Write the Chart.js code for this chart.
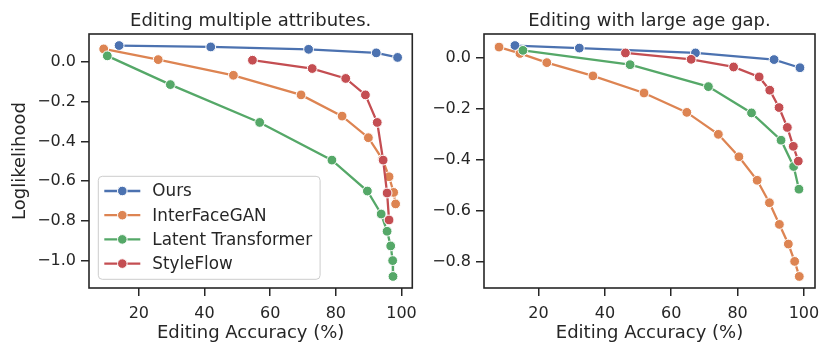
<!DOCTYPE html>
<html>
<head>
<meta charset="utf-8">
<script src="https://cdn.jsdelivr.net/npm/chart.js@4.4.0/dist/chart.umd.min.js"></script>
<style>
  html, body { margin: 0; padding: 0; background: #fff; }
  #wrap { position: relative; width: 831px; height: 354px; }
  .panel { position: absolute; top: 0; }
</style>
</head>
<body>
<div id="wrap">
  <div class="panel" style="left:0"><canvas id="multiChart" width="425" height="354"></canvas></div>
  <div class="panel" style="left:425px"><canvas id="ageChart" width="406" height="354"></canvas></div>
</div>
<script>
// series names + colours (seaborn deep)
var seriesNames = ['Ours', 'InterFaceGAN', 'Latent Transformer', 'StyleFlow'];
var seriesColors = ['#4c72b0', '#dd8452', '#55a868', '#c44e52'];

// Editing multiple attributes
var multiOursX = [14.0, 41.9, 71.7, 92.3, 98.8];
var multiOursY = [0.084, 0.077, 0.065, 0.047, 0.024];
var multiIfgX = [9.3, 25.9, 48.8, 69.4, 81.9, 89.9, 94.2, 96.2, 97.6, 98.2];
var multiIfgY = [0.067, 0.013, -0.066, -0.165, -0.272, -0.381, -0.49, -0.578, -0.657, -0.715];
var multiLtX = [10.4, 29.6, 56.8, 78.8, 89.6, 93.8, 95.6, 96.7, 97.3, 97.4];
var multiLtY = [0.032, -0.113, -0.304, -0.494, -0.650, -0.766, -0.853, -0.927, -1.001, -1.081];
var multiSfX = [54.6, 72.8, 83.0, 89.0, 92.6, 94.4, 95.6, 96.2];
var multiSfY = [0.010, -0.032, -0.082, -0.165, -0.304, -0.494, -0.660, -0.796];

// Editing with large age gap
var ageOursX = [12.9, 32.3, 67.3, 91.0, 98.8];
var ageOursY = [0.049, 0.039, 0.020, -0.006, -0.038];
var ageIfgX = [8.1, 14.4, 22.5, 36.4, 51.8, 64.7, 74.2, 80.4, 85.9, 89.6, 92.6, 95.3, 97.2, 98.6];
var ageIfgY = [0.043, 0.018, -0.018, -0.070, -0.137, -0.213, -0.299, -0.387, -0.479, -0.567, -0.652, -0.729, -0.797, -0.856];
var ageLtX = [15.3, 47.6, 71.2, 84.2, 93.1, 96.9, 98.5];
var ageLtY = [0.030, -0.026, -0.112, -0.215, -0.322, -0.425, -0.514];
var ageSfX = [46.2, 66.0, 78.8, 86.5, 89.7, 92.5, 95.0, 96.8, 98.3];
var ageSfY = [0.020, -0.005, -0.035, -0.074, -0.126, -0.194, -0.272, -0.346, -0.404];

// ticks
var xTicks = [20, 40, 60, 80, 100];
var multiYTicks = [0.0, -0.2, -0.4, -0.6, -0.8, -1.0];
var ageYTicks = [0.0, -0.2, -0.4, -0.6, -0.8];

var ink = '#262626';
Chart.defaults.font.family = 'DejaVu Sans';
Chart.defaults.color = ink;

function zip(xs, ys) {
  return xs.map(function (x, i) { return { x: x, y: ys[i] }; });
}

// matplotlib style 5% margins
function limits(arrs) {
  var all = [].concat.apply([], arrs);
  var lo = Math.min.apply(null, all), hi = Math.max.apply(null, all);
  var m = (hi - lo) * 0.05;
  return { min: lo - m, max: hi + m };
}

function fmtTick(v) {
  return (v < 0 ? '\u2212' : '') + Math.abs(v).toFixed(1);
}

var framePlugin = {
  id: 'frame',
  afterDatasetsDraw: function (chart) {
    var a = chart.chartArea, ctx = chart.ctx;
    ctx.save();
    ctx.strokeStyle = ink;
    ctx.lineWidth = 1.6;
    ctx.strokeRect(a.left, a.top, a.right - a.left, a.bottom - a.top);
    ctx.restore();
  }
};

var panelTitlePlugin = {
  id: 'panelTitle',
  afterDraw: function (chart, args, opts) {
    var a = chart.chartArea, ctx = chart.ctx;
    ctx.save();
    ctx.font = '18px "DejaVu Sans"';
    ctx.fillStyle = ink;
    ctx.textAlign = 'center';
    ctx.textBaseline = 'alphabetic';
    ctx.fillText(opts.text, (a.left + a.right) / 2, 25.7);
    ctx.restore();
  }
};

var boxLegendPlugin = {
  id: 'boxLegend',
  afterDraw: function (chart, args, opts) {
    if (!opts.show) return;
    var a = chart.chartArea, ctx = chart.ctx;
    var ds = chart.data.datasets;
    ctx.save();
    ctx.font = '16.8px "DejaVu Sans"';
    var tw = 0;
    ds.forEach(function (d) { tw = Math.max(tw, ctx.measureText(d.label).width); });
    var w = 54 + tw + 8, h = 103;
    var x0 = a.left + 9.3, y0 = a.bottom - 8.7 - h;
    ctx.beginPath();
    ctx.roundRect(x0, y0, w, h, 4);
    ctx.fillStyle = 'rgba(255,255,255,0.8)';
    ctx.fill();
    ctx.strokeStyle = '#cccccc';
    ctx.lineWidth = 1;
    ctx.stroke();
    ds.forEach(function (d, i) {
      var cy = y0 + 14.7 + i * 24.2;
      ctx.strokeStyle = d.borderColor;
      ctx.lineWidth = 2.3;
      ctx.beginPath();
      ctx.moveTo(x0 + 6, cy);
      ctx.lineTo(x0 + 42, cy);
      ctx.stroke();
      ctx.beginPath();
      ctx.arc(x0 + 24, cy, 4.8, 0, Math.PI * 2);
      ctx.fillStyle = d.borderColor;
      ctx.fill();
      ctx.strokeStyle = '#fff';
      ctx.lineWidth = 1;
      ctx.stroke();
      ctx.fillStyle = ink;
      ctx.textAlign = 'left';
      ctx.textBaseline = 'middle';
      ctx.fillText(d.label, x0 + 54, cy + 1);
    });
    ctx.restore();
  }
};

function makeDatasets(xs, ys) {
  return seriesNames.map(function (name, i) {
    return {
      label: name,
      data: zip(xs[i], ys[i]),
      borderColor: seriesColors[i],
      backgroundColor: seriesColors[i],
      pointBackgroundColor: seriesColors[i],
      pointBorderColor: '#ffffff',
      pointBorderWidth: 1,
      pointRadius: 4.9,
      borderWidth: 2.3,
      tension: 0,
      order: 3 - i
    };
  });
}

function makeChart(id, xs, ys, yTicks, title, cfg) {
  var xl = limits(xs), yl = limits(ys);
  return new Chart(document.getElementById(id), {
    type: 'line',
    data: { datasets: makeDatasets(xs, ys) },
    plugins: [framePlugin, panelTitlePlugin, boxLegendPlugin],
    options: {
      responsive: false,
      animation: false,
      events: [],
      layout: { padding: { top: 34, right: cfg.padRight, bottom: 0, left: 0 } },
      plugins: {
        legend: { display: false },
        tooltip: { enabled: false },
        panelTitle: { text: title },
        boxLegend: { show: cfg.legend }
      },
      scales: {
        x: {
          type: 'linear',
          min: xl.min, max: xl.max,
          afterFit: function (s) { s.height = 66; },
          afterBuildTicks: function (s) { s.ticks = xTicks.map(function (v) { return { value: v }; }); },
          ticks: { font: { size: 16 }, color: ink, padding: 8, maxRotation: 0,
                   callback: function (v) { return String(v); } },
          grid: { drawOnChartArea: false, drawTicks: true, tickLength: 8, color: ink, lineWidth: 1.5 },
          border: { display: false },
          title: { display: true, text: 'Editing Accuracy (%)', font: { size: 18 }, color: ink,
                   padding: { top: 0, bottom: 10 } }
        },
        y: {
          type: 'linear',
          min: yl.min, max: yl.max,
          afterFit: function (s) { s.width = cfg.yWidth; },
          afterBuildTicks: function (s) { s.ticks = yTicks.map(function (v) { return { value: v }; }); },
          ticks: { font: { size: 16 }, color: ink, padding: 5, callback: fmtTick },
          grid: { drawOnChartArea: false, drawTicks: true, tickLength: 8, color: ink, lineWidth: 1.5 },
          border: { display: false },
          title: { display: cfg.yTitle, text: 'Loglikelihood', font: { size: 18 }, color: ink,
                   padding: { top: 10, bottom: 0 } }
        }
      }
    }
  });
}

makeChart('multiChart',
  [multiOursX, multiIfgX, multiLtX, multiSfX],
  [multiOursY, multiIfgY, multiLtY, multiSfY],
  multiYTicks, 'Editing multiple attributes.',
  { padRight: 5, yWidth: 89, yTitle: true, legend: true });

makeChart('ageChart',
  [ageOursX, ageIfgX, ageLtX, ageSfX],
  [ageOursY, ageIfgY, ageLtY, ageSfY],
  ageYTicks, 'Editing with large age gap.',
  { padRight: 16, yWidth: 59, yTitle: false, legend: false });
</script>
</body>
</html>
